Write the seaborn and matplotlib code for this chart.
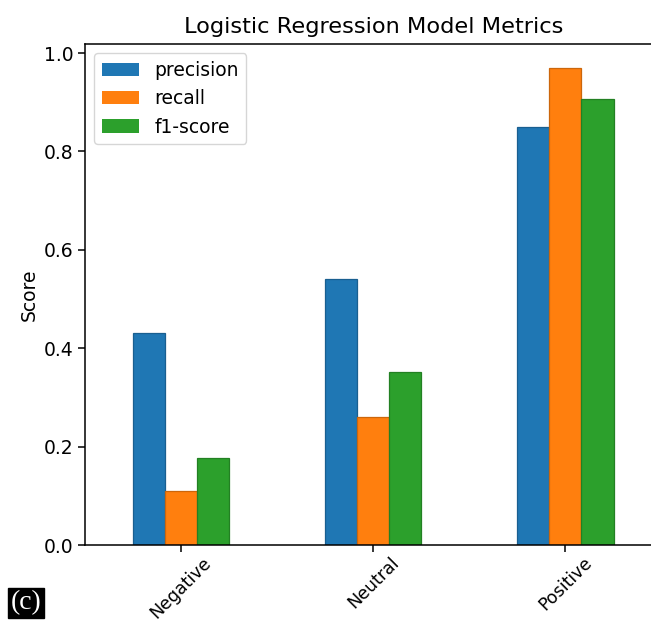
import matplotlib
matplotlib.use("Agg")
import matplotlib.pyplot as plt
import matplotlib.colors as mcolors
import pandas as pd
import seaborn as sns

# Per-class metrics of the logistic regression model
classes = ["Negative", "Neutral", "Positive"]
metrics = ["precision", "recall", "f1-score"]
precision = [0.43, 0.54, 0.85]
recall = [0.11, 0.26, 0.97]
f1_score = [0.177, 0.352, 0.906]

palette = ["#1f77b4", "#ff7f0e", "#2ca02c"]

df = pd.DataFrame({
    "Class": classes * 3,
    "Metric": [m for m in metrics for _ in classes],
    "Score": precision + recall + f1_score,
})

plt.rcParams.update({
    "axes.linewidth": 1.1,
    "xtick.major.size": 4.7,
    "ytick.major.size": 4.7,
    "xtick.major.width": 1.1,
    "ytick.major.width": 1.1,
})

fig = plt.figure(figsize=(6.51, 6.23), dpi=100)
ax = fig.add_axes([0.1306, 0.1252, 0.8856, 0.8042])

sns.barplot(data=df, x="Class", y="Score", hue="Metric", order=classes,
            hue_order=metrics, palette=palette, width=0.5, gap=0,
            saturation=1, errorbar=None, ax=ax)

# darker outline on each bar, like the fill color shaded down
for container, col in zip(ax.containers, palette):
    r, g, b = mcolors.to_rgb(col)
    edge = (r * 0.8, g * 0.8, b * 0.8)
    for patch in container:
        patch.set_edgecolor(edge)
        patch.set_linewidth(0.9)

ax.set_xlim(-0.5, len(classes) - 0.5)
ax.set_ylim(0, max(recall) * 1.05)
ax.set_xlabel("")
ax.set_ylabel("Score", fontsize=13.5)
ax.set_title("Logistic Regression Model Metrics", fontsize=16.2, pad=8)
ax.set_yticks([0.0, 0.2, 0.4, 0.6, 0.8, 1.0])
ax.tick_params(axis="y", labelsize=13.5)
ax.tick_params(axis="x", labelsize=12.5, pad=1.5)
plt.setp(ax.get_xticklabels(), rotation=45, ha="center")

handles, labels = ax.get_legend_handles_labels()
ax.legend(handles, labels, loc="upper left", fontsize=13.5)

# panel tag in the lower-left corner
fig.text(0.016, 0.012, "(c)", color="white", fontsize=20,
         family="Liberation Serif", ha="left", va="bottom",
         bbox=dict(boxstyle="square,pad=0.1", facecolor="black",
                   edgecolor="black"))

fig.savefig("out.png", dpi=100)
